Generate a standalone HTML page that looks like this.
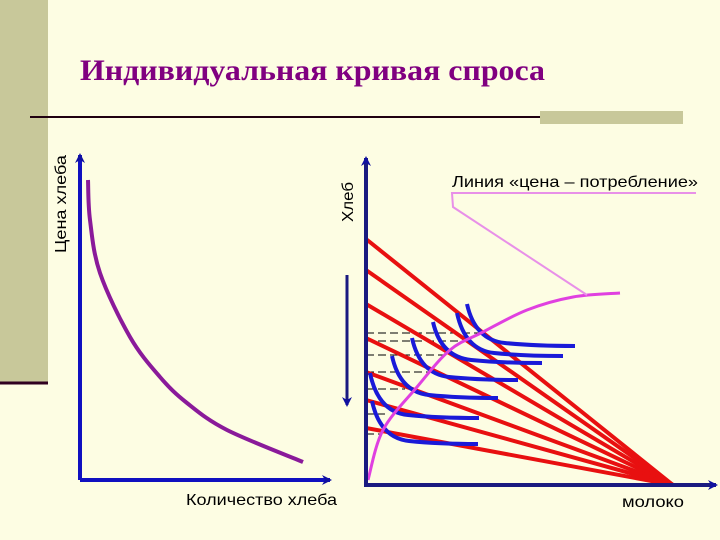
<!DOCTYPE html>
<html><head><meta charset="utf-8"><style>
body{margin:0;background:#fdfde3;}
#wrap{position:relative;width:720px;height:540px;overflow:hidden;background:#fdfde3;font-family:"Liberation Sans",sans-serif;}
</style></head><body>
<div id="wrap">
<svg id="svg" width="720" height="540" xmlns="http://www.w3.org/2000/svg">
<defs>
<marker id="ar" markerWidth="10" markerHeight="10" refX="8" refY="5" orient="auto" markerUnits="userSpaceOnUse"><path d="M0,0 L10,5 L0,10 L3,5 z" fill="#1010a0"/></marker>
</defs>
<rect x="0" y="0" width="48" height="384" fill="#c8c89a"/>
<line x1="0" y1="383" x2="48" y2="383" stroke="#300020" stroke-width="3"/>
<text x="80" y="80" font-family="Liberation Serif,serif" font-weight="bold" font-size="30" textLength="465" lengthAdjust="spacingAndGlyphs" fill="#800080">Индивидуальная кривая спроса</text>
<line x1="30" y1="117" x2="540" y2="117" stroke="#200010" stroke-width="2"/>
<rect x="540" y="111" width="143" height="13" fill="#c8c89a"/>
<line x1="80" y1="480" x2="80" y2="155" stroke="#1010c0" stroke-width="4" marker-end="url(#ar)"/>
<line x1="80" y1="480" x2="330" y2="480" stroke="#1010c0" stroke-width="4" marker-end="url(#ar)"/>
<text transform="translate(66,253) rotate(-90)" font-size="16" textLength="98" lengthAdjust="spacingAndGlyphs" fill="#000">Цена хлеба</text>
<text x="186" y="505" font-size="16" textLength="151" lengthAdjust="spacingAndGlyphs" fill="#000">Количество хлеба</text>
<g id="g"></g>
<line x1="366" y1="487" x2="366" y2="158" stroke="#1a1a80" stroke-width="4" marker-end="url(#ar)"/>
<line x1="366" y1="485" x2="716" y2="485" stroke="#1a1a80" stroke-width="4" marker-end="url(#ar)"/>
<line x1="347" y1="275" x2="347" y2="405" stroke="#1a1a80" stroke-width="3" marker-end="url(#ar)"/>
<text transform="translate(353,222) rotate(-90)" font-size="16" textLength="40" lengthAdjust="spacingAndGlyphs" fill="#000">Хлеб</text>
<text x="622" y="507" font-size="16" textLength="62" lengthAdjust="spacingAndGlyphs" fill="#000">молоко</text>
<text x="452" y="187" font-size="16" textLength="246" lengthAdjust="spacingAndGlyphs" fill="#000">Линия «цена – потребление»</text>
<polyline points="696,193 452,193 453,207 587,295" fill="none" stroke="#e890e8" stroke-width="2"/>
</svg>
</div>
<script>
const demandQ=[88,90,100,130,160,187,227,303];
const demandP=[180,220,273,337,377,403,430,462];
const budgetIntercepts=[239,270,304,338,372,400,428];
const budgetEndX=673, axisY=485, axisX=366;
const icStartX=[467,457,433,412,392,370,372];
const icStartY=[304,313,322,338,356,373,401];
const icEndX=[575,563,542,518,498,479,478];
const icEndY=[346,356,363,380,398,418,444];
const dashY=[333,341,355,372,389,414,434];
const dashEndX=[480,470,450,430,405,385,380];
const pcX=[368,383,417,450,483,527,573,620];
const pcY=[480,430,387,350,332,310,297,293];
const NS='http://www.w3.org/2000/svg';
const g=document.getElementById('g');
function mk(t,a){const e=document.createElementNS(NS,t);for(const k in a)e.setAttribute(k,a[k]);g.appendChild(e);return e;}
function smooth(xs,ys){let d='M'+xs[0]+','+ys[0];for(let i=1;i<xs.length;i++){const x0=xs[i-1],y0=ys[i-1],x1=xs[i],y1=ys[i];const xp=xs[i-2]!==undefined?xs[i-2]:x0,yp=ys[i-2]!==undefined?ys[i-2]:y0;const xn=xs[i+1]!==undefined?xs[i+1]:x1,yn=ys[i+1]!==undefined?ys[i+1]:y1;d+=' C'+(x0+(x1-xp)/6)+','+(y0+(y1-yp)/6)+' '+(x1-(xn-x0)/6)+','+(y1-(yn-y0)/6)+' '+x1+','+y1;}return d;}
let p=mk('path',{d:smooth(demandQ,demandP),fill:'none',stroke:'#8a1a9a','stroke-width':4});


dashY.forEach((y,i)=>{const l=mk('line',{x1:axisX,y1:y,x2:dashEndX[i],y2:y,stroke:'#000','stroke-width':1,'stroke-dasharray':'8,4'});

});
budgetIntercepts.forEach((y,i)=>{const l=mk('line',{x1:axisX,y1:y,x2:budgetEndX,y2:axisY,stroke:'#e81010','stroke-width':4});

});
icStartX.forEach((x,i)=>{const y=icStartY[i],ex=icEndX[i],ey=icEndY[i];const d='M'+x+','+y+' Q'+(x+8)+','+(ey-6)+' '+(x+(ex-x)*0.35)+','+(ey-3)+' T'+ex+','+ey;
const c=mk('path',{d:d,fill:'none',stroke:'#1a1ad8','stroke-width':4});

});
const pc=mk('path',{d:smooth(pcX,pcY),fill:'none',stroke:'#e040e0','stroke-width':3});


</script>
</body></html>
